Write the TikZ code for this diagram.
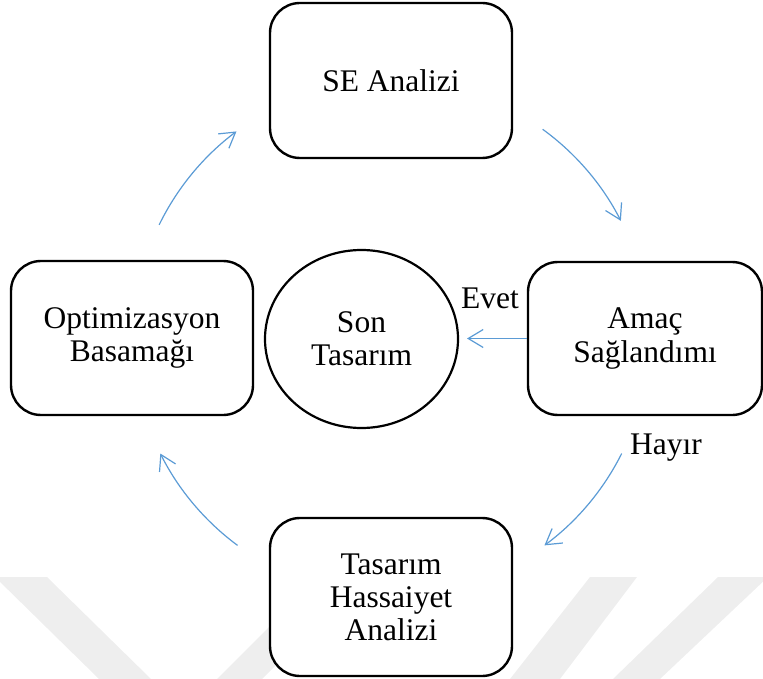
\documentclass[tikz,border=0pt]{standalone}
\usepackage{fontspec}
\setmainfont{Liberation Serif}
\usetikzlibrary{arrows.meta,shapes.geometric,calc}
\definecolor{flowblue}{HTML}{5B9BD5}
\definecolor{wmgray}{HTML}{EEEEEE}
\begin{document}
\begin{tikzpicture}[x=1pt,y=1pt,
  box/.style={draw=black, line width=2.4pt, rounded corners=30pt, fill=white,
    align=center, font=\fontsize{31.5}{33}\selectfont, inner sep=0pt},
  endnode/.style={draw=black, line width=2.2pt, ellipse, fill=white,
    align=center, font=\fontsize{31.5}{33}\selectfont, inner sep=0pt},
  lbl/.style={font=\fontsize{31.5}{33}\selectfont, inner sep=0pt},
  flow/.style={draw=flowblue, line width=1.2pt, -{Straight Barb[length=15pt,width=18pt]}},
  wm/.style={fill=wmgray}
]
\useasboundingbox (0,0) rectangle (763,-679);
% faint watermark
\fill[wm] (-5,-577) -- (47,-577) -- (151,-679) -- (99,-679) -- cycle;
\fill[wm] (217,-679) -- (262,-679) -- (364,-577) -- (319,-577) -- cycle;
\fill[wm] (590,-577) -- (637,-577) -- (560,-679) -- (510,-679) -- cycle;
\fill[wm] (718,-577) -- (768,-577) -- (660,-679) -- (613,-679) -- cycle;

% nodes
\node[box, minimum width=242pt, minimum height=155pt] (se) at (391,-80.5) {SE Analizi};
\node[box, minimum width=234pt, minimum height=153pt] (amac) at (645,-338.5) {Amaç\\Sağlandımı};
\node[box, minimum width=242pt, minimum height=154pt] (opt) at (132,-338) {Optimizasyon\\Basamağı};
\node[box, minimum width=242pt, minimum height=158pt] (tas) at (391,-597) {Tasarım\\Hassaiyet\\Analizi};
\node[endnode, minimum width=193pt, minimum height=178pt] (son) at (361.5,-339) {Son\\Tasarım};
\node[lbl] (evet) at (490,-298) {Evet};
\node[lbl] (hayir) at (666,-448) {Hayır};

% cycle arcs
\coordinate (cc) at (391,-338);
\coordinate (a1) at ($(cc)+(54:258pt)$);
\coordinate (a2) at ($(cc)+(-26.6:258pt)$);
\coordinate (a3) at ($(cc)+(233.5:258pt)$);
\coordinate (a4) at ($(cc)+(154:258pt)$);
\draw[flow] (a1) arc[start angle=54, end angle=27, radius=258pt];
\draw[flow] (a2) arc[start angle=-26.6, end angle=-53.5, radius=258pt];
\draw[flow] (a3) arc[start angle=233.5, end angle=206.6, radius=258pt];
\draw[flow] (a4) arc[start angle=154, end angle=126.8, radius=258pt];

% Evet arrow
\coordinate (evettip) at (467,-338.5);
\draw[flow] (amac.west) -- (evettip);
\end{tikzpicture}
\end{document}
